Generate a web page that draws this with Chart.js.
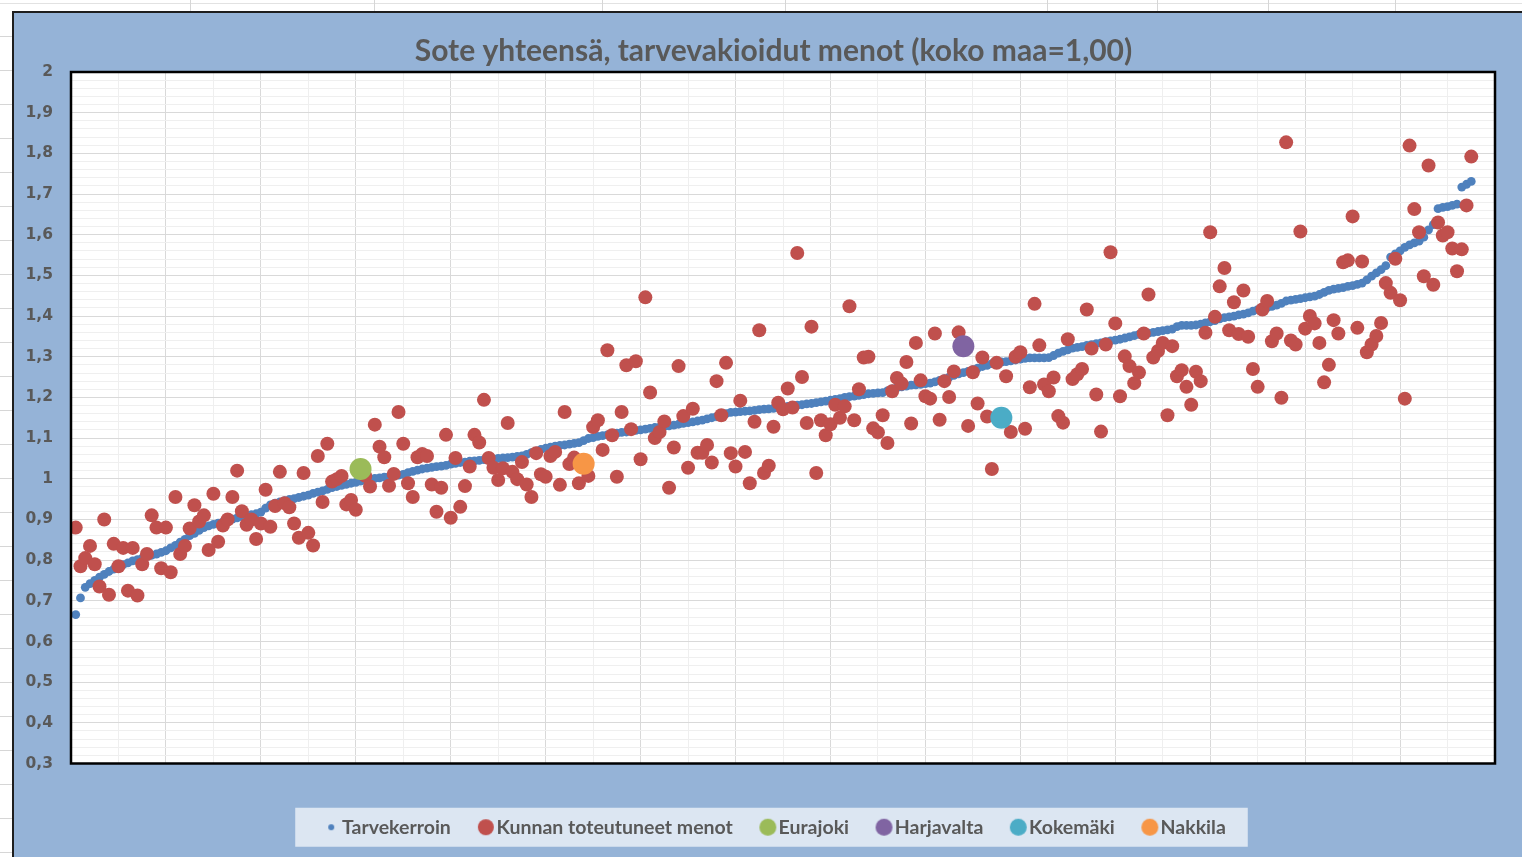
<!DOCTYPE html>
<html>
<head>
<meta charset="utf-8">
<script src="https://cdn.jsdelivr.net/npm/chart.js@4.4.1/dist/chart.umd.min.js"></script>
<style>
html,body{margin:0;padding:0;width:1522px;height:857px;overflow:hidden;background:#fff;}
.vl{position:absolute;top:0;height:12px;width:1px;background:#d6d6d6;}
.hl{position:absolute;left:0;width:12px;height:1px;background:#d6d6d6;}
#topline{position:absolute;left:0;top:3px;width:1522px;height:1px;background:#e2e2e2;}
#frame{position:absolute;left:12px;top:11px;width:1600px;height:900px;border-left:2px solid #1e1e1e;border-top:2px solid #1e1e1e;background:#95B3D7;overflow:hidden;}
#c{position:absolute;left:0;top:0;}
</style>
</head>
<body>
<div id="topline"></div>
<div id="sheetlines"></div>
<div id="frame"><canvas id="c" width="1508" height="844"></canvas></div>
<script>
// ---- data ----
const chartTitle = 'Sote yhteensä, tarvevakioidut menot (koko maa=1,00)';
const seriesNames = ['Tarvekerroin', 'Kunnan toteutuneet menot'];
const yTicks = {min: 0.3, max: 2, step: 0.1};

// Tarvekerroin (sorted), one value per municipality
const tarvekerroin = [
0.666,0.707,0.733,0.742,0.750,0.758,0.765,0.772,0.778,0.785,
0.789,0.793,0.798,0.801,0.805,0.809,0.812,0.815,0.819,0.823,
0.830,0.836,0.844,0.851,0.860,0.866,0.873,0.880,0.884,0.888,
0.891,0.894,0.898,0.901,0.904,0.907,0.909,0.912,0.914,0.918,
0.928,0.936,0.940,0.943,0.946,0.949,0.951,0.954,0.957,0.960,
0.964,0.967,0.970,0.974,0.978,0.981,0.984,0.986,0.989,0.991,
0.994,0.997,1.000,1.001,1.002,1.004,1.005,1.007,1.009,1.011,
1.015,1.018,1.021,1.024,1.026,1.028,1.030,1.031,1.033,1.036,
1.038,1.040,1.041,1.043,1.044,1.045,1.047,1.048,1.049,1.050,
1.051,1.052,1.053,1.055,1.056,1.060,1.064,1.068,1.072,1.075,
1.078,1.080,1.082,1.083,1.085,1.087,1.089,1.094,1.099,1.101,
1.104,1.106,1.108,1.110,1.112,1.114,1.115,1.117,1.119,1.120,
1.122,1.124,1.126,1.127,1.129,1.130,1.132,1.134,1.136,1.138,
1.140,1.142,1.144,1.147,1.150,1.153,1.156,1.160,1.163,1.164,
1.165,1.166,1.167,1.168,1.170,1.171,1.172,1.173,1.175,1.176,
1.178,1.180,1.181,1.182,1.184,1.185,1.187,1.189,1.191,1.193,
1.195,1.197,1.200,1.202,1.203,1.205,1.207,1.209,1.210,1.211,
1.212,1.216,1.221,1.224,1.226,1.228,1.230,1.231,1.232,1.234,
1.235,1.238,1.242,1.246,1.250,1.254,1.258,1.261,1.264,1.268,
1.272,1.276,1.279,1.283,1.285,1.287,1.288,1.290,1.292,1.294,
1.296,1.297,1.297,1.297,1.297,1.298,1.303,1.309,1.313,1.317,
1.321,1.323,1.325,1.328,1.330,1.332,1.334,1.337,1.339,1.341,
1.343,1.346,1.349,1.352,1.355,1.357,1.358,1.360,1.362,1.364,
1.366,1.368,1.374,1.377,1.377,1.377,1.378,1.380,1.383,1.386,
1.389,1.393,1.396,1.398,1.400,1.403,1.405,1.408,1.412,1.416,
1.419,1.421,1.424,1.427,1.431,1.437,1.439,1.441,1.443,1.445,
1.447,1.449,1.453,1.458,1.463,1.466,1.468,1.470,1.473,1.475,
1.478,1.481,1.489,1.498,1.506,1.514,1.524,1.545,1.553,1.560,
1.569,1.575,1.580,1.584,1.594,1.612,1.625,1.664,1.667,1.669,
1.672,1.675,1.717,1.724,1.731
];

// Kunnan toteutuneet menot, same order of municipalities
const toteutuneet = [
0.880,0.785,0.805,0.835,0.790,0.735,0.900,0.715,0.840,0.785,
0.830,0.725,0.830,0.713,0.790,0.815,0.910,0.880,0.780,0.880,
0.770,0.955,0.815,0.835,0.878,0.935,0.895,0.910,0.825,0.963,
0.845,0.885,0.900,0.955,1.020,0.920,0.887,0.900,0.852,0.890,
0.973,0.882,0.933,1.017,0.940,0.930,0.890,0.855,1.014,0.867,
0.836,1.056,0.943,1.086,0.993,0.999,1.007,0.937,0.948,0.924,
1.024,1.007,0.981,1.133,1.079,1.053,0.983,1.012,1.164,1.086,
0.989,0.955,1.053,1.061,1.056,0.986,0.919,0.978,1.108,0.904,
1.051,0.931,0.982,1.030,1.108,1.089,1.194,1.051,1.027,0.997,
1.026,1.137,1.017,0.999,1.041,0.986,0.955,1.063,1.011,1.005,
1.056,1.066,0.985,1.164,1.036,1.052,0.989,1.037,1.007,1.127,
1.144,1.071,1.316,1.107,1.005,1.164,1.279,1.122,1.289,1.048,
1.446,1.212,1.100,1.115,1.141,0.978,1.077,1.277,1.154,1.027,
1.172,1.064,1.064,1.083,1.040,1.240,1.156,1.285,1.063,1.030,
1.192,1.066,0.989,1.140,1.365,1.014,1.032,1.128,1.187,1.171,
1.222,1.175,1.555,1.250,1.137,1.374,1.014,1.144,1.107,1.134,
1.182,1.150,1.178,1.424,1.144,1.220,1.298,1.300,1.124,1.114,
1.156,1.088,1.215,1.248,1.234,1.287,1.136,1.334,1.242,1.203,
1.197,1.357,1.145,1.240,1.201,1.264,1.360,1.326,1.130,1.262,
1.185,1.298,1.153,1.024,1.285,1.150,1.252,1.115,1.300,1.311,
1.123,1.225,1.430,1.328,1.232,1.215,1.249,1.154,1.138,1.343,
1.245,1.257,1.270,1.416,1.320,1.207,1.116,1.330,1.557,1.382,
1.203,1.301,1.277,1.235,1.261,1.357,1.453,1.298,1.314,1.334,
1.156,1.326,1.252,1.267,1.226,1.182,1.263,1.240,1.359,1.606,
1.398,1.473,1.518,1.365,1.434,1.356,1.463,1.349,1.270,1.226,
1.416,1.437,1.338,1.357,1.199,1.827,1.340,1.330,1.608,1.369,
1.400,1.382,1.334,1.237,1.280,1.390,1.357,1.532,1.537,1.645,
1.371,1.534,1.311,1.330,1.351,1.383,1.481,1.457,1.541,1.439,
1.197,1.819,1.663,1.606,1.498,1.770,1.477,1.630,1.598,1.606,
1.566,1.510,1.564,1.672,1.792
];

// highlighted municipalities: position in the order and their value
const highlightNames  = ['Eurajoki', 'Harjavalta', 'Kokemäki', 'Nakkila'];
const highlightIndex  = [61, 188, 196, 108];
const highlightValues = [1.024, 1.326, 1.150, 1.037];
const highlightColors = ['#9BBB59', '#8064A2', '#4BACC6', '#F79646'];

// ---- spreadsheet decoration ----
const sl = document.getElementById('sheetlines');
[190, 374, 602, 785, 1047, 1157, 1268, 1395].forEach(x => {
  const d = document.createElement('div'); d.className = 'vl'; d.style.left = x + 'px'; sl.appendChild(d);
});
for (let y = 36; y < 857; y += 34) {
  const d = document.createElement('div'); d.className = 'hl'; d.style.top = y + 'px'; sl.appendChild(d);
}

// ---- chart ----
const textColor = '#595959';
function markerCanvas(r, color) {
  const c = document.createElement('canvas');
  c.width = c.height = 2 * r + 2;
  const g = c.getContext('2d');
  g.fillStyle = color;
  g.beginPath(); g.arc(r + 1, r + 1, r, 0, Math.PI * 2); g.fill();
  return c;
}

const datasets = [
  {label: seriesNames[0], data: tarvekerroin.map((v, i) => ({x: i + 1, y: v})),
   backgroundColor: '#4F81BD', pointRadius: 4.4, pointBorderWidth: 0, order: 3, legendR: 3},
  {label: seriesNames[1], data: toteutuneet.map((v, i) => ({x: i + 1, y: v})),
   backgroundColor: '#C0504D', pointRadius: 7, pointBorderWidth: 0, order: 2, legendR: 8}
];
highlightNames.forEach((n, k) => {
  datasets.push({label: n, data: [{x: highlightIndex[k], y: highlightValues[k]}],
    backgroundColor: highlightColors[k], pointRadius: 11, pointBorderWidth: 0, order: 1, legendR: 8.5});
});

const decor = {
  id: 'decor',
  afterLayout(chart) {
    // centre title and legend the way the original workbook does
    chart.titleBlock.left = 38;
    chart.legend.left = 47;
  },
  beforeDraw(chart) {
    const {ctx, chartArea: a, legend} = chart;
    ctx.save();
    const hb = legend.legendHitBoxes;
    if (hb && hb.length) {
      const l = Math.min(...hb.map(h => h.left)) - 35;
      const r = Math.max(...hb.map(h => h.left + h.width)) + 22;
      const cy = hb[0].top + hb[0].height / 2;
      ctx.fillStyle = '#DCE6F2';
      ctx.fillRect(l, cy - 19.5, r - l, 39);
    }
    ctx.fillStyle = '#ffffff';
    ctx.fillRect(a.left, a.top, a.right - a.left, a.bottom - a.top);
    ctx.restore();
  },
  afterDatasetsDraw(chart) {
    const {ctx, chartArea: a} = chart;
    ctx.save();
    ctx.strokeStyle = '#000';
    ctx.lineWidth = 2.5;
    ctx.strokeRect(a.left, a.top, a.right - a.left, a.bottom - a.top);
    ctx.restore();
  }
};

new Chart(document.getElementById('c'), {
  type: 'scatter',
  data: {datasets},
  plugins: [decor],
  options: {
    responsive: false,
    animation: false,
    layout: {padding: {left: 0, right: 27, top: 0, bottom: 10}},
    plugins: {
      title: {display: true, text: chartTitle, color: textColor,
        font: {family: 'Lato', size: 30, weight: 'bold'}, padding: {top: 20, bottom: 3}},
      tooltip: {enabled: false},
      legend: {
        position: 'bottom',
        labels: {
          usePointStyle: true, pointStyleWidth: 2, padding: 34, color: textColor,
          font: {family: 'Lato', size: 19.5, weight: 'bold'},
          generateLabels(chart) {
            return chart.data.datasets.map((ds, i) => ({
              text: ds.label, fillStyle: ds.backgroundColor, strokeStyle: ds.backgroundColor,
              lineWidth: 0, pointStyle: markerCanvas(ds.legendR, ds.backgroundColor),
              hidden: false, datasetIndex: i, fontColor: textColor
            }));
          },
          sort: (a, b) => a.datasetIndex - b.datasetIndex
        }
      }
    },
    scales: {
      x: {
        type: 'linear', min: 0, max: 300,
        ticks: {stepSize: 10, display: false},
        grid: {drawTicks: false, color: c => (Math.round(c.tick.value) % 20 === 0 ? '#D9D9D9' : '#EFEFEF')},
        border: {display: false},
        afterFit: s => { s.height = 20; }
      },
      y: {
        min: yTicks.min, max: yTicks.max,
        ticks: {
          stepSize: 0.02, autoSkip: false, padding: 18, color: textColor,
          font: {family: 'DejaVu Sans', size: 15.5, weight: 'bold'},
          callback: v => {
            const t = Math.round(v * 100);
            if (t % 10 !== 0) return '';
            return String(t / 100).replace('.', ',');
          }
        },
        grid: {drawTicks: false, color: c => (Math.round(c.tick.value * 100) % 10 === 0 ? '#D9D9D9' : '#EFEFEF')},
        border: {display: false},
        afterFit: s => { s.width = 57; }
      }
    }
  }
});
</script>
</body>
</html>
